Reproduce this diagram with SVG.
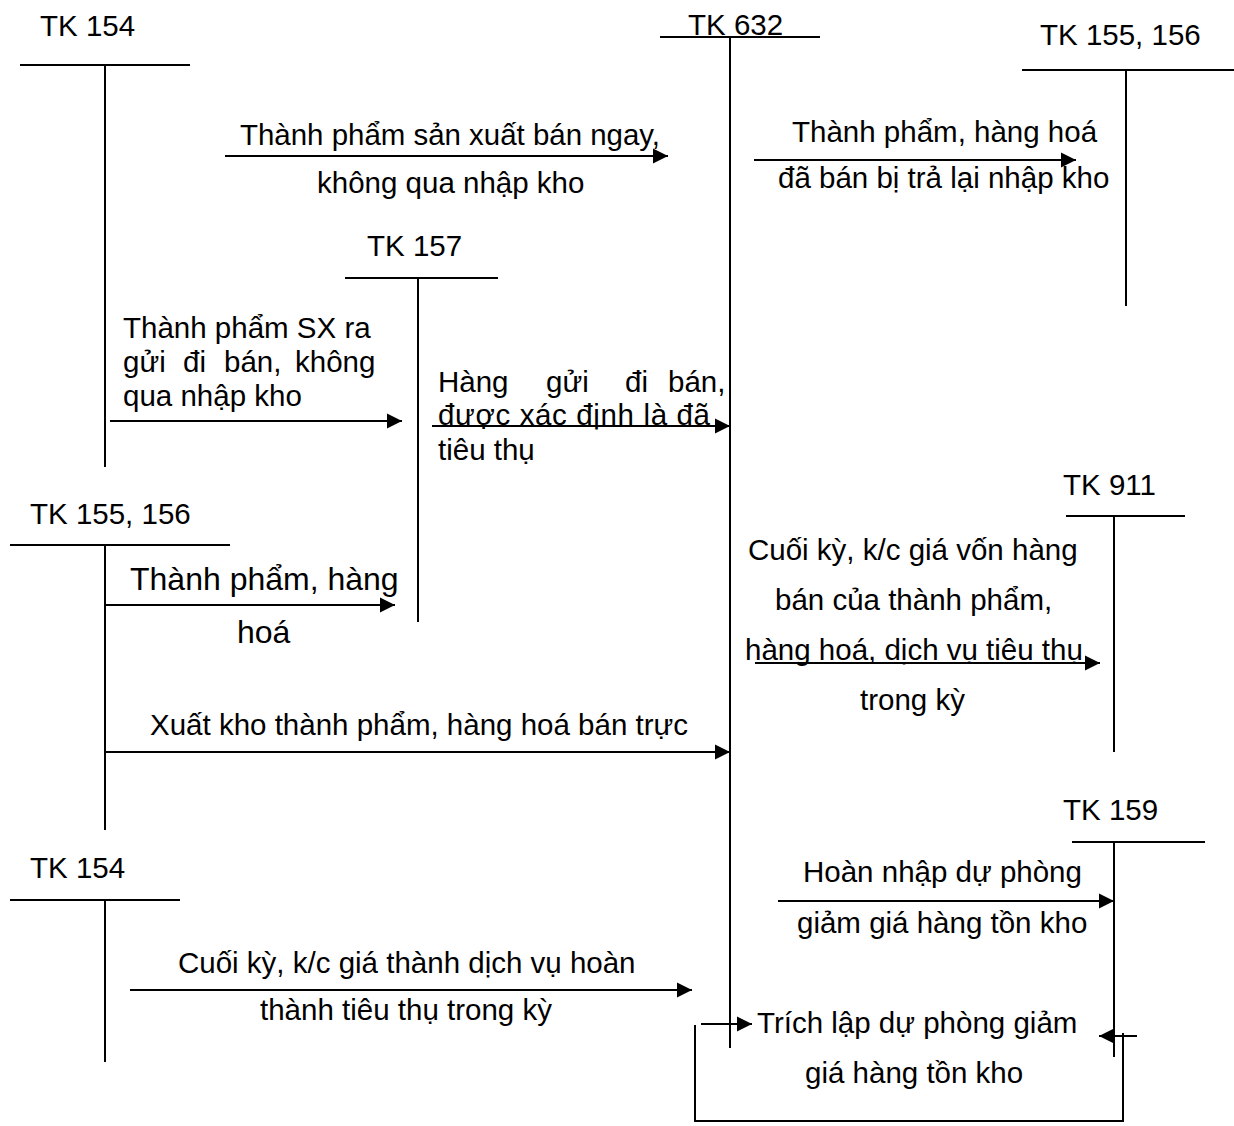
<svg xmlns="http://www.w3.org/2000/svg" width="1234" height="1126" viewBox="0 0 1234 1126">
  <style>
    .t { font-family: "Liberation Sans", Arial, sans-serif; font-size: 29.5px; fill: #000; }
    .big { font-size: 32px; }
    .ln { stroke: #000; stroke-width: 2; fill: none; }
    .ar { stroke: #000; stroke-width: 2; fill: none; marker-end: url(#head); }
  </style>
  <defs>
    <marker id="head" markerUnits="userSpaceOnUse" markerWidth="17" markerHeight="17" refX="16" refY="8" orient="auto">
      <path d="M1,0.5 L16,8 L1,15.5 z" fill="#000"/>
    </marker>
  </defs>
  <rect width="1234" height="1126" fill="#fff"/>

  <!-- T-accounts -->
  <g id="tk154-top">
    <text class="t" x="40" y="36">TK 154</text>
    <line class="ln" x1="20" y1="65" x2="190" y2="65"/>
    <line class="ln" x1="105" y1="65" x2="105" y2="467"/>
  </g>
  <g id="tk632">
    <text class="t" x="688" y="35">TK 632</text>
    <line class="ln" x1="660" y1="37" x2="820" y2="37"/>
    <line class="ln" x1="730" y1="38" x2="730" y2="1048"/>
  </g>
  <g id="tk155-156-top">
    <text class="t" x="1040" y="45">TK 155, 156</text>
    <line class="ln" x1="1022" y1="70" x2="1234" y2="70"/>
    <line class="ln" x1="1126" y1="70" x2="1126" y2="306"/>
  </g>
  <g id="tk157">
    <text class="t" x="367" y="256">TK 157</text>
    <line class="ln" x1="345" y1="278" x2="498" y2="278"/>
    <line class="ln" x1="418" y1="278" x2="418" y2="622"/>
  </g>
  <g id="tk155-156-mid">
    <text class="t" x="30" y="524">TK 155, 156</text>
    <line class="ln" x1="10" y1="545" x2="230" y2="545"/>
    <line class="ln" x1="105" y1="545" x2="105" y2="830"/>
  </g>
  <g id="tk911">
    <text class="t" x="1063" y="495">TK 911</text>
    <line class="ln" x1="1066" y1="516" x2="1185" y2="516"/>
    <line class="ln" x1="1114" y1="516" x2="1114" y2="752"/>
  </g>
  <g id="tk159">
    <text class="t" x="1063" y="820">TK 159</text>
    <line class="ln" x1="1072" y1="842" x2="1205" y2="842"/>
    <line class="ln" x1="1114" y1="842" x2="1114" y2="1057"/>
  </g>
  <g id="tk154-bottom">
    <text class="t" x="30" y="878">TK 154</text>
    <line class="ln" x1="10" y1="900" x2="180" y2="900"/>
    <line class="ln" x1="105" y1="900" x2="105" y2="1062"/>
  </g>

  <!-- Connectors -->
  <g id="connectors">
    <line class="ar" x1="225" y1="156" x2="668" y2="156"/>
    <line class="ar" x1="754" y1="160" x2="1076" y2="160"/>
    <line class="ar" x1="110" y1="421" x2="402" y2="421"/>
    <line class="ar" x1="432" y1="426" x2="730" y2="426"/>
    <line class="ar" x1="105" y1="605" x2="395" y2="605"/>
    <line class="ar" x1="105" y1="752" x2="730" y2="752"/>
    <line class="ar" x1="755" y1="663" x2="1100" y2="663"/>
    <line class="ar" x1="778" y1="901" x2="1114" y2="901"/>
    <line class="ar" x1="130" y1="990" x2="692" y2="990"/>
    <line class="ar" x1="701" y1="1024" x2="752" y2="1024"/>
    <line class="ar" x1="1137" y1="1036" x2="1099" y2="1036"/>
    <polyline class="ln" points="695,1025 695,1121 1123,1121 1123,1033"/>
  </g>

  <!-- Labels -->
  <g id="labels">
    <text class="t" x="240" y="145" textLength="420" lengthAdjust="spacingAndGlyphs">Thành phẩm sản xuất bán ngay,</text>
    <text class="t" x="317" y="193">không qua nhập kho</text>

    <text class="t" x="792" y="142">Thành phẩm, hàng hoá</text>
    <text class="t" x="778" y="188">đã bán bị trả lại nhập kho</text>

    <text class="t" x="123" y="338">Thành phẩm SX ra</text>
    <text class="t" y="372"><tspan x="123">gửi</tspan><tspan x="183">đi</tspan><tspan x="224">bán,</tspan><tspan x="295">không</tspan></text>
    <text class="t" x="123" y="406">qua nhập kho</text>

    <text class="t" y="392"><tspan x="438">Hàng</tspan><tspan x="546">gửi</tspan><tspan x="625">đi</tspan><tspan x="668">bán,</tspan></text>
    <text class="t" x="438" y="425" textLength="272" lengthAdjust="spacing">được xác định là đã</text>
    <text class="t" x="438" y="460">tiêu thụ</text>

    <text class="t big" x="130" y="590">Thành phẩm, hàng</text>
    <text class="t big" x="237" y="643">hoá</text>

    <text class="t" x="150" y="735">Xuất kho thành phẩm, hàng hoá bán trực</text>

    <text class="t" x="748" y="560">Cuối kỳ, k/c giá vốn hàng</text>
    <text class="t" x="775" y="610">bán của thành phẩm,</text>
    <text class="t" x="745" y="660">hàng hoá, dịch vụ tiêu thụ</text>
    <text class="t" x="860" y="710">trong kỳ</text>

    <text class="t" x="803" y="882">Hoàn nhập dự phòng</text>
    <text class="t" x="797" y="933">giảm giá hàng tồn kho</text>

    <text class="t" x="178" y="973">Cuối kỳ, k/c giá thành dịch vụ hoàn</text>
    <text class="t" x="260" y="1020">thành tiêu thụ trong kỳ</text>

    <text class="t" x="757" y="1033">Trích lập dự phòng giảm</text>
    <text class="t" x="805" y="1083">giá hàng tồn kho</text>
  </g>
</svg>
